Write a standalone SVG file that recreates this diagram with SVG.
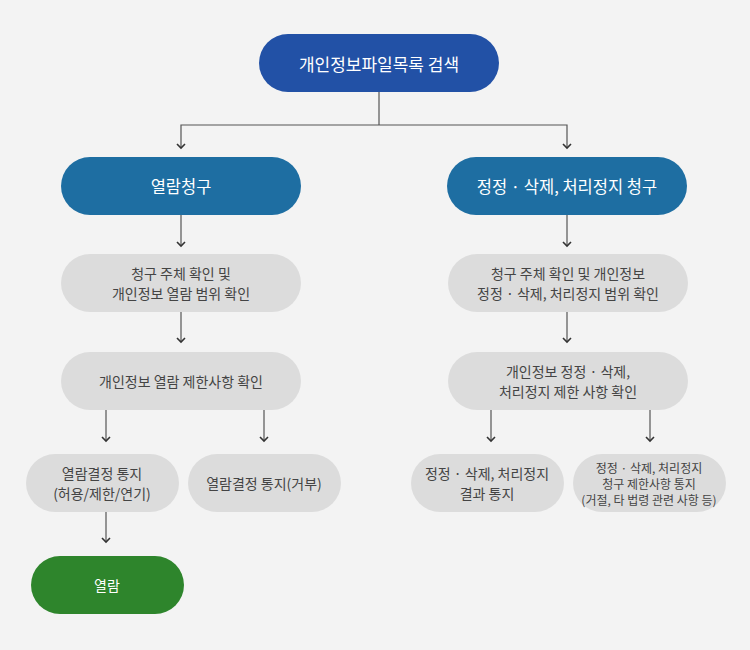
<svg xmlns="http://www.w3.org/2000/svg" width="750" height="650" viewBox="0 0 750 650">
<style>
text{font-family:"Noto Sans CJK KR","Noto Sans",sans-serif;text-anchor:middle;dominant-baseline:central}
.w{fill:#fff}
.g{fill:#444}
.t1{font-size:17px}
.t2{font-size:16.5px}
.t3{font-size:14px}
.t4{font-size:12px}
.blue{fill:#2251a6}
.teal{fill:#1e6ea2}
.gray{fill:#dcdcdc}
.green{fill:#2e852c}
.ln{stroke:#555;stroke-width:1.2;fill:none}
.ar{stroke:#333;stroke-width:1.6;fill:none}
</style>
<rect width="750" height="650" fill="#f3f3f3"/>
<g id="connectors">
<polyline class="ln" points="379,92 379,125"/>
<polyline class="ln" points="181,147 181,125 567,125 567,147"/>
<line class="ln" x1="181" y1="215" x2="181" y2="245"/>
<line class="ln" x1="181" y1="312" x2="181" y2="341"/>
<line class="ln" x1="106" y1="410" x2="106" y2="440"/>
<line class="ln" x1="264" y1="410" x2="264" y2="440"/>
<line class="ln" x1="106" y1="512" x2="106" y2="541"/>
<line class="ln" x1="567" y1="215" x2="567" y2="245"/>
<line class="ln" x1="567" y1="312" x2="567" y2="341"/>
<line class="ln" x1="491" y1="410" x2="491" y2="440"/>
<line class="ln" x1="650" y1="410" x2="650" y2="440"/>
<polyline class="ar" points="177,144 181,148 185,144"/>
<polyline class="ar" points="563,144 567,148 571,144"/>
<polyline class="ar" points="177,242 181,246 185,242"/>
<polyline class="ar" points="177,338 181,342 185,338"/>
<polyline class="ar" points="102,437 106,441 110,437"/>
<polyline class="ar" points="260,437 264,441 268,437"/>
<polyline class="ar" points="102,538 106,542 110,538"/>
<polyline class="ar" points="563,242 567,246 571,242"/>
<polyline class="ar" points="563,338 567,342 571,338"/>
<polyline class="ar" points="487,437 491,441 495,437"/>
<polyline class="ar" points="646,437 650,441 654,437"/>
</g>
<g id="n-search"><rect class="blue" x="259" y="34" width="240" height="58" rx="29"/><text class="w t1" x="379" y="63">개인정보파일목록 검색</text></g>
<g id="n-read-req"><rect class="teal" x="61" y="157" width="240" height="58" rx="29"/><text class="w t2" x="181" y="186">열람청구</text></g>
<g id="n-fix-req"><rect class="teal" x="447" y="157" width="240" height="58" rx="29"/><text class="w t2" x="567" y="186">정정 · 삭제, 처리정지 청구</text></g>
<g id="n-l1"><rect class="gray" x="61" y="254" width="240" height="58" rx="29"/><text class="g t3" x="181" y="273">청구 주체 확인 및</text><text class="g t3" x="181" y="293">개인정보 열람 범위 확인</text></g>
<g id="n-r1"><rect class="gray" x="448" y="254" width="240" height="58" rx="29"/><text class="g t3" x="568" y="273">청구 주체 확인 및 개인정보</text><text class="g t3" x="568" y="293">정정 · 삭제, 처리정지 범위 확인</text></g>
<g id="n-l2"><rect class="gray" x="61" y="352" width="240" height="58" rx="29"/><text class="g t3" x="181" y="381">개인정보 열람 제한사항 확인</text></g>
<g id="n-r2"><rect class="gray" x="448" y="352" width="240" height="58" rx="29"/><text class="g t3" x="568" y="371">개인정보 정정 · 삭제,</text><text class="g t3" x="568" y="391">처리정지 제한 사항 확인</text></g>
<g id="n-l3a"><rect class="gray" x="26" y="454" width="153" height="58" rx="29"/><text class="g t3" x="102" y="473">열람결정 통지</text><text class="g t3" x="102" y="493">(허용/제한/연기)</text></g>
<g id="n-l3b"><rect class="gray" x="188" y="454" width="153" height="58" rx="29"/><text class="g t3" x="264" y="483">열람결정 통지(거부)</text></g>
<g id="n-r3a"><rect class="gray" x="411" y="454" width="153" height="58" rx="29"/><text class="g t3" x="487" y="473">정정 · 삭제, 처리정지</text><text class="g t3" x="487" y="493">결과 통지</text></g>
<g id="n-r3b"><rect class="gray" x="573" y="454" width="153" height="58" rx="29"/><text class="g t4" x="649" y="467">정정 · 삭제, 처리정지</text><text class="g t4" x="649" y="483">청구 제한사항 통지</text><text class="g t4" x="649" y="499">(거절, 타 법령 관련 사항 등)</text></g>
<g id="n-view"><rect class="green" x="31" y="556" width="153" height="58" rx="29"/><text class="w t3" x="107" y="585">열람</text></g>
</svg>
